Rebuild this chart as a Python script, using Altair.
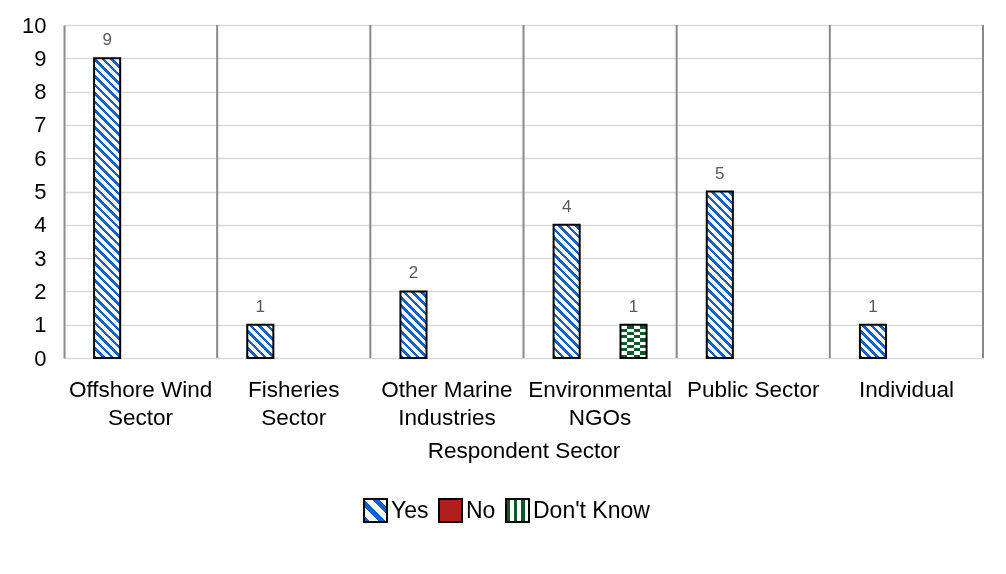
import altair as alt
import pandas as pd

# ---- data ----
categories = ["Offshore Wind\nSector", "Fisheries\nSector", "Other Marine\nIndustries",
              "Environmental\nNGOs", "Public Sector", "Individual"]
series_names = ["Yes", "No", "Don't Know"]
yes_vals = [9, 1, 2, 4, 5, 1]
no_vals = [0, 0, 0, 0, 0, 0]
dk_vals = [0, 0, 0, 1, 0, 0]

rows = []
for i, c in enumerate(categories):
    rows.append({"cat": c, "series": "Yes", "count": yes_vals[i]})
    rows.append({"cat": c, "series": "No", "count": no_vals[i]})
    rows.append({"cat": c, "series": "Don't Know", "count": dk_vals[i]})
df = pd.DataFrame(rows)
cat_df = pd.DataFrame({"cat": categories})

# ---- styles ----
FONT = "Liberation Sans"
BLUE = "#1063c3"
RED = "#b01e1e"
GREEN = "#0a5a2c"
GRID = "#d9d9d9"
DARKGRID = "#8a8a8a"


def stripe_stops(n, frac, c1, c2):
    parts = []
    for i in range(n):
        a = i / n
        b = (i + frac) / n
        e = (i + 1) / n
        parts += [(a, c1), (b, c1), (b, c2), (e, c2)]
    return "[" + ",".join("{offset:%.5f,color:'%s'}" % (o, c) for o, c in parts) + "]"


W = "bandwidth('xOffset')"
H = "(scale('y',0)-scale('y',datum['count']))"

# diagonal "\" stripes with a constant pixel period in every bar
N1, P1 = 60, 8.5
D1 = N1 * P1
S = f"(pow({W},2)+pow({H},2))"
yes_fill = (f"{{gradient:'linear',x1:0,y1:1,x2:{W}*{D1}/{S},y2:1-{H}*{D1}/{S},"
            f"stops:{stripe_stops(N1, 0.42, BLUE, '#ffffff')}}}")

# horizontal black/white stripes (for checkerboard via difference blend)
N2 = 60
dk_h_fill = (f"{{gradient:'linear',x1:0,y1:1,x2:0.0001,y2:1-{N2}*({W}/4)/{H},"
             f"stops:{stripe_stops(N2, 0.5, '#000000', '#ffffff')}}}")

# vertical black/white columns (4 per bar)
vstops = []
for i in range(4):
    col = "#000000" if i % 2 == 0 else "#ffffff"
    vstops += [alt.GradientStop(offset=i / 4, color=col), alt.GradientStop(offset=(i + 1) / 4, color=col)]
dk_v_fill = alt.Gradient(gradient="linear", x1=0, y1=0, x2=1, y2=0, stops=vstops)

# legend symbol fills
yes_leg = f"{{gradient:'linear',x1:0,y1:1,x2:1,y2:0,stops:{stripe_stops(3, 0.45, BLUE, '#ffffff')}}}"
dk_leg = f"{{gradient:'linear',x1:0,y1:0,x2:1,y2:0,stops:{stripe_stops(3, 0.5, GREEN, '#ffffff')}}}"

x_axis = alt.Axis(title="Respondent Sector", labelExpr="split(datum.label, '\\n')",
                  labelAngle=0, labelAlign="center", labelLineHeight=28, labelPadding=20,
                  titlePadding=11, domain=False, ticks=False, grid=False, labelFontSize=22.5,
                  labelFont=FONT, labelColor="black", titleFont=FONT,
                  titleFontSize=22.5, titleFontWeight="normal", titleColor="black",
                  labelBaseline="top", labelLimit=300)
x_scale = alt.Scale(domain=categories, paddingInner=0, paddingOuter=0)
x_enc = alt.X("cat:N", sort=categories, scale=x_scale, axis=x_axis)
xo_enc = alt.XOffset("series:N", sort=series_names,
                     scale=alt.Scale(domain=series_names, paddingInner=0.22, paddingOuter=0.9))
y_enc = alt.Y("count:Q",
              scale=alt.Scale(domain=[0, 10], nice=False),
              axis=alt.Axis(title=None, tickCount=10, ticks=False, labelOverlap=False,
                            labelPadding=18, labelFontSize=22, labelFont=FONT, labelColor="black",
                            domainColor=DARKGRID, domainWidth=2, gridColor=GRID, gridWidth=1.5))

base = alt.Chart(df).encode(x=x_enc, xOffset=xo_enc, y=y_enc)
pos = base.transform_filter("datum['count'] > 0")

rules = alt.Chart(cat_df).mark_rule(color=DARKGRID, strokeWidth=2).encode(
    x=alt.X("cat:N", sort=categories, bandPosition=1, scale=x_scale, axis=x_axis)
)

legend_layer = pos.mark_bar(strokeWidth=0).encode(
    fill=alt.Fill("series:N", sort=series_names,
                  scale=alt.Scale(domain=series_names,
                                  range=[alt.ExprRef(yes_leg), RED, alt.ExprRef(dk_leg)]),
                  legend=alt.Legend(title=None, orient="none", direction="horizontal",
                                    legendX=299, legendY=473, symbolType="square",
                                    symbolSize=529, symbolStrokeColor="black",
                                    symbolStrokeWidth=2, symbolOpacity=1,
                                    labelFontSize=23, labelFont=FONT, labelColor="black",
                                    labelOffset=3, columnPadding=6, padding=0))
)

dk_filter = "datum.series == \"Don't Know\""
yes_layer = pos.transform_filter("datum.series == 'Yes'").mark_bar(
    fill=alt.ExprRef(yes_fill), strokeWidth=0)
dk1 = pos.transform_filter(dk_filter).mark_bar(fill=dk_v_fill, strokeWidth=0)
dk2 = pos.transform_filter(dk_filter).mark_bar(
    fill=alt.ExprRef(dk_h_fill), strokeWidth=0, blend="difference")
dk3 = pos.transform_filter(dk_filter).mark_bar(fill=GREEN, strokeWidth=0, blend="screen")
outline = pos.mark_bar(fillOpacity=0, stroke="black", strokeWidth=2)
labels = pos.mark_text(font=FONT, fontSize=17, color="#595959", baseline="alphabetic", dy=-13).encode(
    text="count:Q")

chart = alt.layer(rules, legend_layer, yes_layer, dk1, dk2, dk3, outline, labels).properties(
    width=919, height=333,
    autosize=alt.AutoSizeParams(type="none"),
    padding={"left": 56, "top": 17, "right": 15, "bottom": 200},
).configure_view(stroke=None).configure(font=FONT)

chart.save("out.html", embed_options={"renderer": "svg", "actions": False})
